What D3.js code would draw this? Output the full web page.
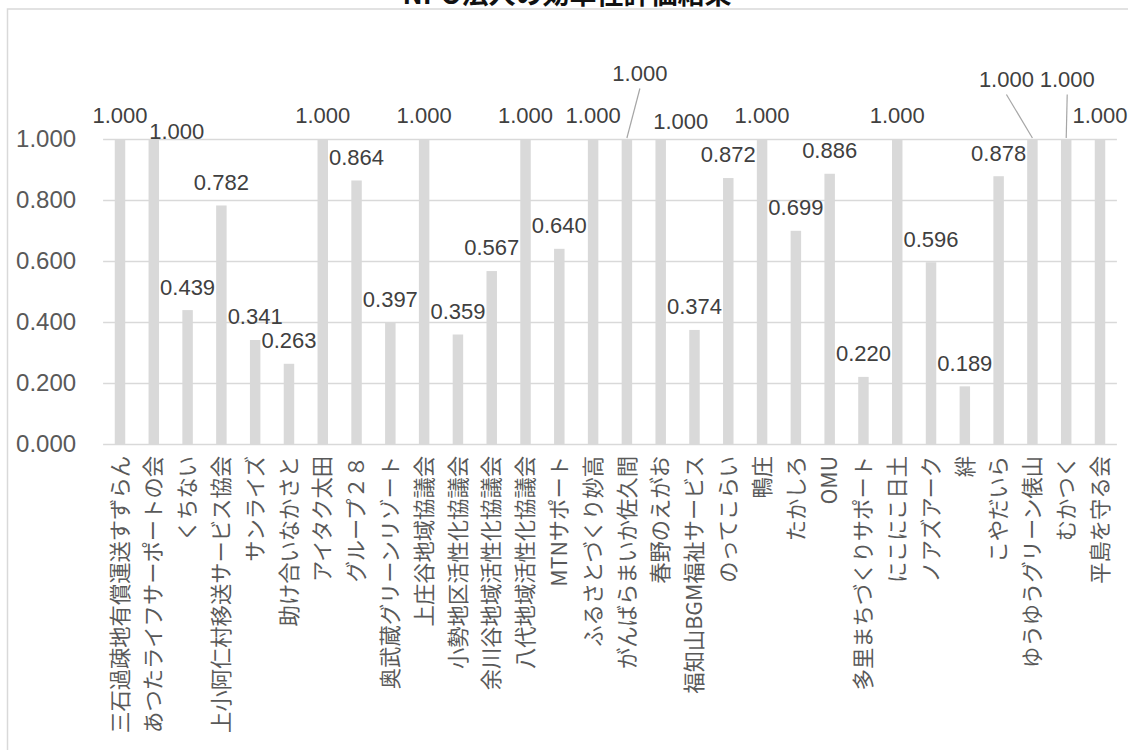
<!DOCTYPE html>
<html>
<head>
<meta charset="utf-8">
<script src="https://cdn.jsdelivr.net/npm/d3@7"></script>
<style>
  html, body { margin: 0; padding: 0; background: #fff; }
  svg { display: block; }
</style>
</head>
<body>
<svg id="chart" width="1128" height="750"></svg>
<script>
const title = "NPO法人の効率性評価結果";
const categories = [
  "三石過疎地有償運送すずらん", "あつたライフサーポートの会", "くちない", "上小阿仁村移送サービス協会",
  "サンライズ", "助け合いなかさと", "アイタク太田", "グループ２８", "奥武蔵グリーンリゾート",
  "上庄谷地域協議会", "小勢地区活性化協議会", "余川谷地域活性化協議会", "八代地域活性化協議会",
  "MTNサポート", "ふるさとづくり妙高", "がんばらまいか佐久間", "春野のえがお", "福知山BGM福祉サービス",
  "のってこらい", "鴨庄", "たかしろ", "OMU", "多里まちづくりサポート", "にこにこ日土", "ノアズアーク",
  "絆", "こやだいら", "ゆうゆうグリーン俵山", "むかつく", "平島を守る会"
];
const values = [
  1.000, 1.000, 0.439, 0.782, 0.341, 0.263, 1.000, 0.864, 0.397, 1.000,
  0.359, 0.567, 1.000, 0.640, 1.000, 1.000, 1.000, 0.374, 0.872, 1.000,
  0.699, 0.886, 0.220, 1.000, 0.596, 0.189, 0.878, 1.000, 1.000, 1.000
];
const yTicks = [0, 0.2, 0.4, 0.6, 0.8, 1.0];

// layout: manually moved data labels (pixel offsets from default position)
const labelMoves = {
  1:  { dx: 23, dy: 15.5 },
  15: { dx: 13, dy: -42.5, leader: true },
  16: { dx: 20, dy: 5.5 },
  27: { dx: -26, dy: -36.5, leader: true },
  28: { dx: 1, dy: -36.5, leader: true }
};

const svg = d3.select("#chart");
const FONT = "'Liberation Sans', Arial, 'Noto Sans CJK JP', sans-serif";
const CJK = "'Noto Sans CJK JP', 'Liberation Sans', sans-serif";

const x = d3.scaleBand().domain(categories).range([103.1, 1116.9]).paddingInner(0.69).paddingOuter(0.345);
const y = d3.scaleLinear().domain([0, 1]).range([444, 139]);

// chart border
svg.append("rect").attr("x", 7.5).attr("y", 9).attr("width", 1300).attr("height", 900)
  .attr("fill", "none").attr("stroke", "#d9d9d9").attr("stroke-width", 1.5);

// title (partially cut at top, as in the reference)
svg.append("text").attr("x", 567).attr("y", 4).attr("text-anchor", "middle")
  .attr("font-family", CJK).attr("font-weight", "bold").attr("font-size", 27)
  .attr("fill", "#111").text(title);

// gridlines + y axis
const yAxis = d3.axisLeft(y).tickValues(yTicks).tickFormat(d3.format(".3f"))
  .tickSize(-(1116.9 - 103.1)).tickPadding(27);
const gy = svg.append("g").attr("transform", "translate(103.1,0)").call(yAxis);
gy.select(".domain").remove();
gy.selectAll(".tick line").attr("stroke", "#d9d9d9").attr("stroke-width", 1.5);
gy.selectAll(".tick text").attr("font-family", FONT).attr("font-size", 24)
  .attr("fill", "#595959");

// bars
svg.append("g").selectAll("rect").data(values).join("rect")
  .attr("x", (d, i) => x(categories[i]))
  .attr("width", x.bandwidth())
  .attr("y", d => y(d))
  .attr("height", d => y(0) - y(d))
  .attr("fill", "#d9d9d9");

// category labels
const gx = svg.append("g");
gx.selectAll("text").data(categories).join("text")
  .attr("transform", d => `translate(${x(d) + x.bandwidth() / 2},456) rotate(-90)`)
  .attr("text-anchor", "end")
  .attr("dy", "0.36em")
  .attr("font-family", CJK).attr("font-size", 21.3).attr("fill", "#595959")
  .text(d => d);

// data labels
const labels = values.map((v, i) => {
  const cx = x(categories[i]) + x.bandwidth() / 2;
  const cy = y(v) - 23.5;
  const m = labelMoves[i] || { dx: 0, dy: 0 };
  return { v, i, bx: cx, by: y(v), lx: cx + m.dx, ly: cy + m.dy, leader: !!m.leader };
});

svg.append("g").selectAll("line").data(labels.filter(d => d.leader)).join("line")
  .attr("x1", d => d.lx).attr("y1", d => d.ly + 15.5)
  .attr("x2", d => d.bx).attr("y2", d => d.by - 1)
  .attr("stroke", "#a6a6a6").attr("stroke-width", 1.2);

svg.append("g").selectAll("text").data(labels).join("text")
  .attr("x", d => d.lx).attr("y", d => d.ly + 7.9)
  .attr("text-anchor", "middle")
  .attr("font-family", FONT).attr("font-size", 22).attr("fill", "#404040")
  .text(d => d3.format(".3f")(d.v));
</script>
</body>
</html>
